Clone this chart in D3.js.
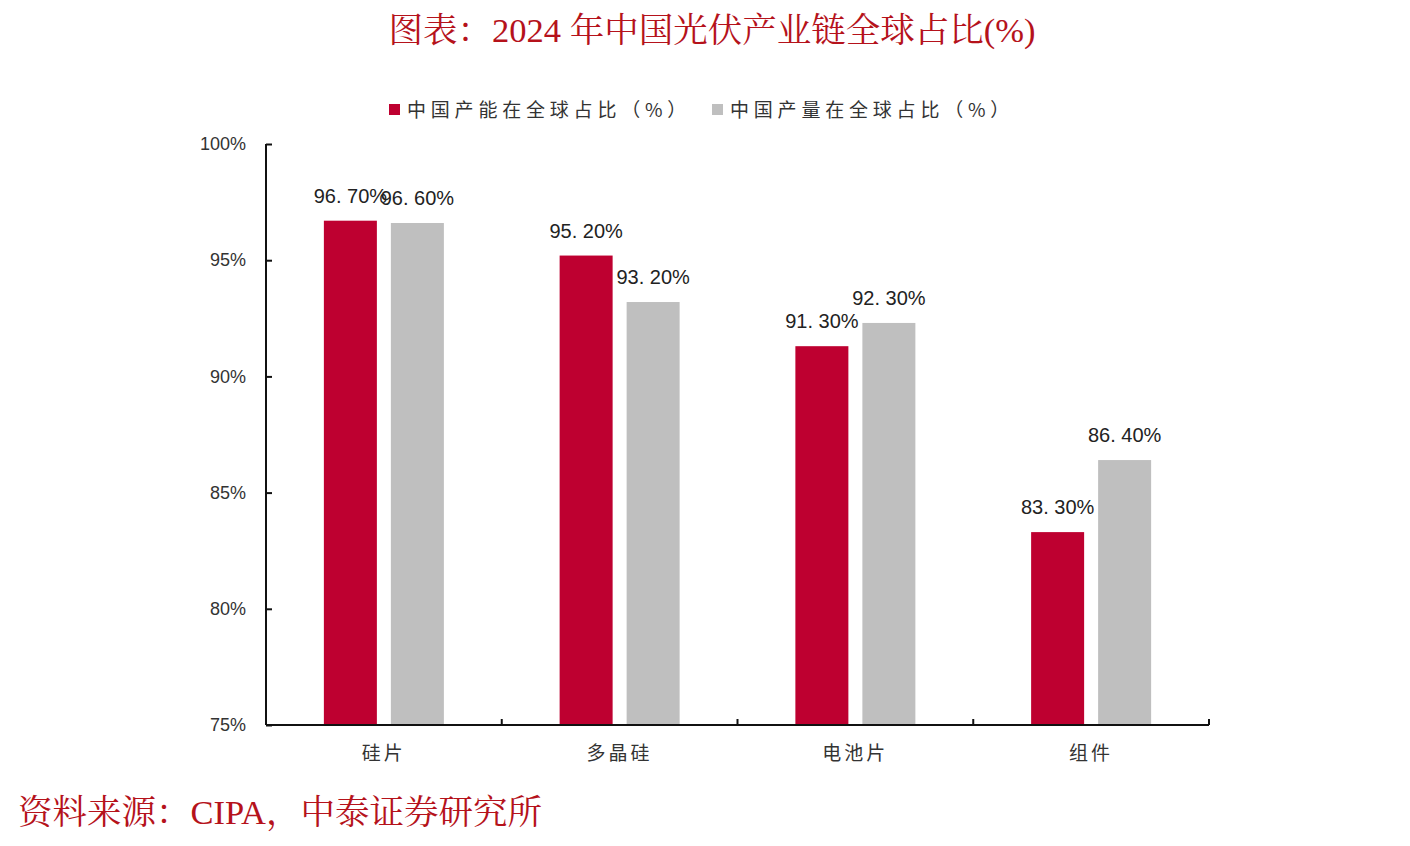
<!DOCTYPE html>
<html>
<head>
<meta charset="utf-8">
<script src="https://cdn.jsdelivr.net/npm/d3@7"></script>
<style>
  html, body { margin: 0; padding: 0; background: #fff; }
  svg { display: block; }
</style>
</head>
<body>
<div id="chart"></div>
<script>
const categories = ['硅片', '多晶硅', '电池片', '组件'];
const seriesNames = ['中国产能在全球占比（%）', '中国产量在全球占比（%）'];
const capacityShare = [96.7, 95.2, 91.3, 83.3];
const outputShare = [96.6, 93.2, 92.3, 86.4];
const yTicks = [75, 80, 85, 90, 95, 100];

const COLORS = ['#be0030', '#bfbfbf'];
const TITLE_RED = '#b5121b';
const W = 1410, H = 846;
const margin = { left: 266, right: 201, top: 144, bottom: 121 };

const svg = d3.select('#chart').append('svg')
  .attr('width', W)
  .attr('height', H);

// title
svg.append('text')
  .attr('x', 712)
  .attr('y', 42)
  .attr('text-anchor', 'middle')
  .attr('font-family', '"Liberation Serif", "Noto Serif CJK SC", "Noto Sans CJK SC", serif')
  .attr('font-size', '34.5px')
  .attr('fill', TITLE_RED)
  .text('图表：2024 年中国光伏产业链全球占比(%)');

// source
svg.append('text')
  .attr('x', 18)
  .attr('y', 824)
  .attr('font-family', '"Liberation Serif", "Noto Serif CJK SC", "Noto Sans CJK SC", serif')
  .attr('font-size', '34.5px')
  .attr('fill', TITLE_RED)
  .text('资料来源：CIPA，中泰证券研究所');

const x0 = d3.scaleBand()
  .domain(categories)
  .range([margin.left, W - margin.right])
  .paddingInner(0)
  .paddingOuter(0);

const y = d3.scaleLinear()
  .domain([75, 100])
  .range([H - margin.bottom, margin.top]);

const barW = 53;
const offsets = [-33.5, 33.5];
const series = [capacityShare, outputShare];

// bars
series.forEach((vals, si) => {
  svg.append('g').selectAll('rect')
    .data(vals)
    .enter()
    .append('rect')
    .attr('x', (d, i) => x0(categories[i]) + x0.bandwidth() / 2 + offsets[si] - barW / 2)
    .attr('y', d => y(d))
    .attr('width', barW)
    .attr('height', d => y(75) - y(d))
    .attr('fill', COLORS[si]);
});

// data labels
series.forEach((vals, si) => {
  svg.append('g').selectAll('text')
    .data(vals)
    .enter()
    .append('text')
    .attr('x', (d, i) => x0(categories[i]) + x0.bandwidth() / 2 + offsets[si])
    .attr('y', d => y(d) - 18)
    .attr('text-anchor', 'middle')
    .attr('font-family', '"Liberation Sans", Arial, sans-serif')
    .attr('font-size', '20px')
    .attr('fill', '#222')
    .text(d => d.toFixed(2).replace('.', '. ') + '%');
});

// y axis
const yAxis = d3.axisLeft(y)
  .tickValues(yTicks)
  .tickSize(-6)
  .tickPadding(20)
  .tickFormat(d => d + '%');

const yg = svg.append('g')
  .attr('transform', `translate(${margin.left},0)`)
  .call(yAxis);
yg.select('.domain').attr('stroke', '#111').attr('stroke-width', 2).attr('d', `M0,${y(100)}V${y(75)}`);
yg.selectAll('.tick line').attr('stroke', '#111').attr('stroke-width', 2);
yg.selectAll('.tick text')
  .attr('font-family', '"Liberation Sans", Arial, sans-serif')
  .attr('font-size', '18px')
  .attr('fill', '#333');

// x axis: ticks at category boundaries
const boundaries = categories.map(c => x0(c)).concat([x0.range()[1]]);
const xg = svg.append('g');
xg.append('line')
  .attr('x1', margin.left)
  .attr('x2', W - margin.right)
  .attr('y1', y(75))
  .attr('y2', y(75))
  .attr('stroke', '#111')
  .attr('stroke-width', 2);
xg.selectAll('line.tk')
  .data(boundaries.slice(1))
  .enter()
  .append('line')
  .attr('class', 'tk')
  .attr('x1', d => d)
  .attr('x2', d => d)
  .attr('y1', y(75))
  .attr('y2', y(75) - 6)
  .attr('stroke', '#111')
  .attr('stroke-width', 2);
xg.selectAll('text')
  .data(categories)
  .enter()
  .append('text')
  .attr('x', d => x0(d) + x0.bandwidth() / 2)
  .attr('y', y(75) + 35)
  .attr('text-anchor', 'middle')
  .attr('font-family', '"Noto Sans CJK SC", sans-serif')
  .attr('font-size', '19px')
  .attr('letter-spacing', '3px')
  .attr('fill', '#333')
  .text(d => d);

// legend
const legendX = [389, 712];
const legend = svg.append('g');
seriesNames.forEach((name, i) => {
  legend.append('rect')
    .attr('x', legendX[i])
    .attr('y', 104)
    .attr('width', 11)
    .attr('height', 11)
    .attr('fill', COLORS[i]);
  legend.append('text')
    .attr('x', legendX[i] + 18)
    .attr('y', 117)
    .attr('font-family', '"Noto Sans CJK SC", sans-serif')
    .attr('font-size', '19px')
    .attr('letter-spacing', '4.8px')
    .attr('fill', '#333')
    .text(name);
});
</script>
</body>
</html>
